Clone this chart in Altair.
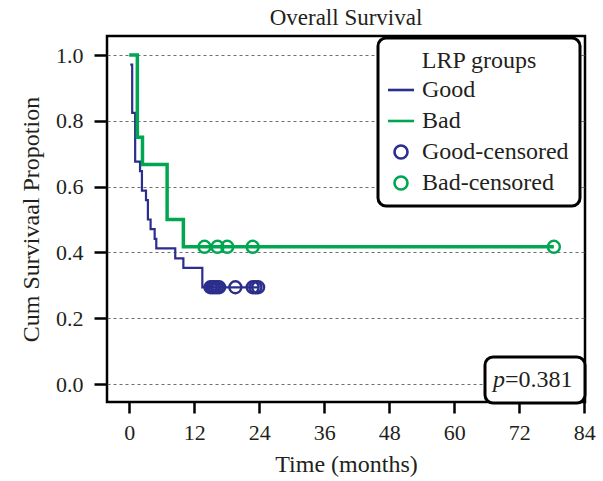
import altair as alt
import pandas as pd

# ---- data ----
series_names = ["Good", "Bad", "Good-censored", "Bad-censored"]
series_colors = ["#2B2E8C", "#00A651", "#2B2E8C", "#00A651"]

good_times = [0.2, 0.55, 1.1, 2.0, 2.35, 3.1, 3.45, 3.95, 4.7, 5.0, 8.5, 10.0, 13.5, 23.9]
good_surv = [0.971, 0.824, 0.676, 0.647, 0.588, 0.559, 0.5, 0.471, 0.441, 0.412, 0.382, 0.353, 0.294, 0.294]

bad_times = [0.0, 1.5, 2.45, 7.0, 10.0, 78.4]
bad_surv = [1.0, 0.75, 0.667, 0.5, 0.417, 0.417]

good_cens_times = [15.0, 15.4, 15.8, 16.2, 16.6, 19.6, 22.8, 23.3, 23.8]
good_cens_surv = [0.294] * len(good_cens_times)

bad_cens_times = [13.9, 16.3, 18.1, 22.8, 78.4]
bad_cens_surv = [0.417] * len(bad_cens_times)

x_ticks = [0, 12, 24, 36, 48, 60, 72, 84]
y_ticks = [0.0, 0.2, 0.4, 0.6, 0.8, 1.0]
p_symbol = ["p"]
p_text = ["=0.381"]

# ---- tables ----
good_df = pd.DataFrame({"time": good_times, "surv": good_surv, "series": "Good"})
bad_df = pd.DataFrame({"time": bad_times, "surv": bad_surv, "series": "Bad"})
cens_df = pd.concat([
    pd.DataFrame({"time": good_cens_times, "surv": good_cens_surv, "series": "Good-censored"}),
    pd.DataFrame({"time": bad_cens_times, "surv": bad_cens_surv, "series": "Bad-censored"}),
], ignore_index=True)
annot_df = pd.DataFrame({"sym": p_symbol, "val": p_text})

SERIF = "Liberation Serif"
TXT = "#231f20"

x_enc = alt.X("time:Q",
              scale=alt.Scale(domain=[-4.1, 84.15], nice=False, zero=False),
              axis=alt.Axis(values=x_ticks, title="Time (months)", grid=False, labelFlush=False,
                            tickSize=11, labelPadding=9, titlePadding=9, format="d"))
y_enc = alt.Y("surv:Q",
              scale=alt.Scale(domain=[-0.0547, 1.0578], nice=False, zero=False),
              axis=alt.Axis(values=y_ticks, title="Cum Survivaal Propotion", format=".1f",
                            grid=True, gridDash=[3, 3], gridColor="#6f6f6f", gridWidth=1,
                            labelFlush=False,
                            tickSize=13, labelPadding=11, titlePadding=12))

good_line = alt.Chart(good_df).mark_line(interpolate="step-after", strokeWidth=2.2,
                                         color=series_colors[0]).encode(
    x=x_enc, y=y_enc, order="time:Q",
)
bad_line = alt.Chart(bad_df).mark_line(interpolate="step-after", strokeWidth=3.5,
                                       color=series_colors[1]).encode(
    x=x_enc, y=y_enc, order="time:Q",
)

legend_kw = dict(
    title="LRP groups", orient="none", legendX=271, legendY=2,
    symbolSize=169, symbolStrokeWidth=2.6, symbolOpacity=1,
    labelFont=SERIF, labelFontSize=24, labelColor=TXT,
    titleFont=SERIF, titleFontSize=24, titleFontWeight="normal", titleColor=TXT,
    titleAnchor="middle", padding=11, rowPadding=7, labelOffset=9,
    strokeColor="black", cornerRadius=8, fillColor="white", titlePadding=5,
)

points = alt.Chart(cens_df).mark_point(filled=False, size=144, strokeWidth=2.4, opacity=1).encode(
    x=x_enc, y=y_enc,
    stroke=alt.Stroke("series:N", scale=alt.Scale(domain=series_names, range=series_colors),
                      legend=alt.Legend(**legend_kw)),
    shape=alt.Shape("series:N",
                    scale=alt.Scale(domain=series_names,
                                    range=["M-2,0H2", "M-2,0H2", "circle", "circle"]),
                    legend=alt.Legend(**legend_kw)),
)

pbox = alt.Chart(annot_df).mark_rect(fill="white", stroke="black", strokeWidth=3,
                                     cornerRadius=8).encode(
    x=alt.value(378), x2=alt.value(478), y=alt.value(321), y2=alt.value(367)
)
ptext1 = alt.Chart(annot_df).mark_text(font=SERIF, fontSize=24, fontStyle="italic",
                                       align="right", baseline="middle", color=TXT).encode(
    x=alt.value(398), y=alt.value(344), text="sym:N"
)
ptext2 = alt.Chart(annot_df).mark_text(font=SERIF, fontSize=24,
                                       align="left", baseline="middle", color=TXT).encode(
    x=alt.value(398), y=alt.value(344), text="val:N"
)

chart = alt.layer(good_line, bad_line, points, pbox, ptext1, ptext2).properties(
    width=478, height=366,
    padding={"left": 107, "top": 36, "right": 18, "bottom": 79},
    autosize=alt.AutoSizeParams(type="none"),
    title=alt.TitleParams("Overall Survival", font=SERIF, fontSize=23, fontWeight="normal",
                          color=TXT, anchor="middle", offset=6),
).configure(
    font=SERIF
).configure_view(
    stroke="black", strokeWidth=2.5
).configure_axis(
    domain=False, labelFont=SERIF, labelFontSize=22, labelColor=TXT,
    titleFont=SERIF, titleFontSize=24, titleFontWeight="normal", titleColor=TXT,
    tickColor="black", tickWidth=2.5,
).configure_legend(
    strokeWidth=3, labelFont=SERIF, titleFont=SERIF, labelFontSize=24, titleFontSize=24,
    titleFontWeight="normal",
)

chart.save("out.html", embed_options={"renderer": "svg", "actions": False})
